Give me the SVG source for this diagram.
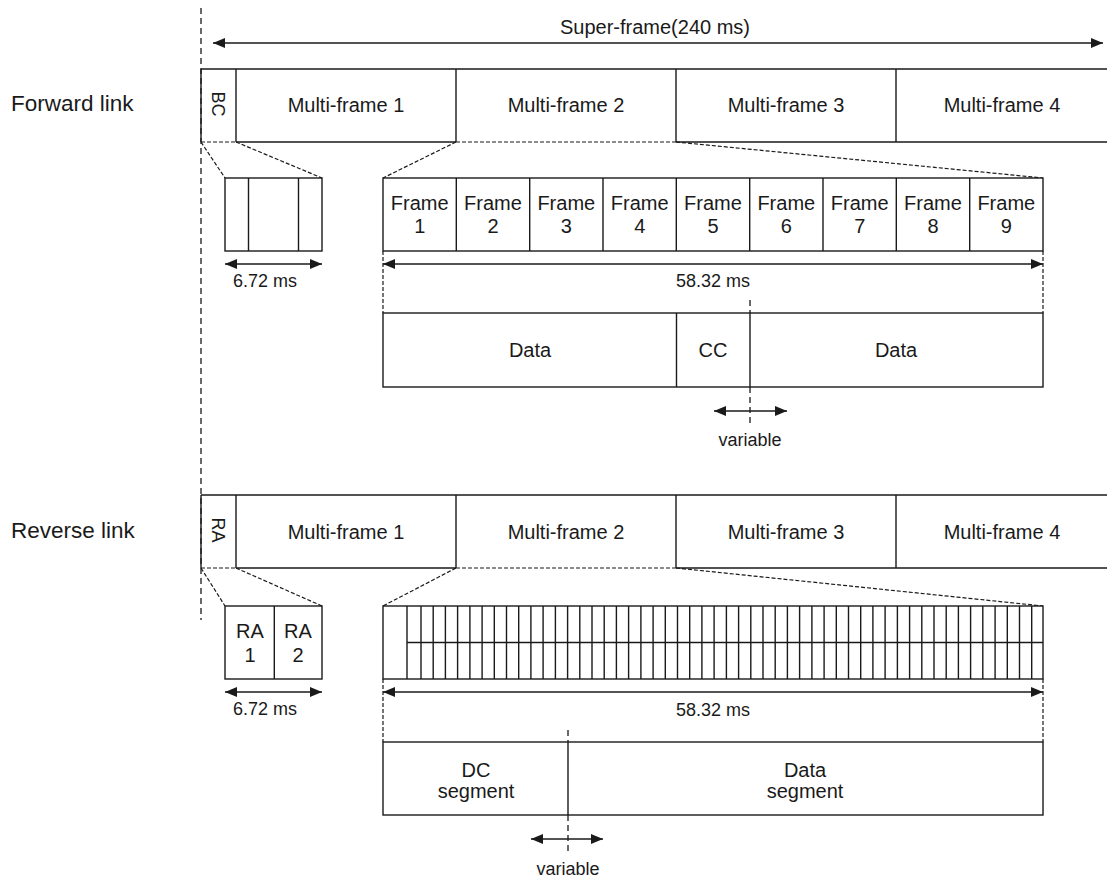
<svg xmlns="http://www.w3.org/2000/svg" width="1107" height="878" viewBox="0 0 1107 878">
<style>
.s{fill:none;stroke:#1a1a1a;stroke-width:1.4}
.box{fill:#fff;stroke:#1a1a1a;stroke-width:1.4}
.d{fill:none;stroke:#1a1a1a;stroke-width:1.2;stroke-dasharray:4 2}
.dv{fill:none;stroke:#1a1a1a;stroke-width:1.3;stroke-dasharray:6 4}
.a{fill:none;stroke:#1a1a1a;stroke-width:1.5;marker-start:url(#ah);marker-end:url(#ah)}
text{font-family:"Liberation Sans",Arial,sans-serif;fill:#1a1a1a;text-anchor:middle}
.t20{font-size:20px}
.t18{font-size:18px}
.lbl{font-size:22.5px;text-anchor:start}
</style>
<defs>
<marker id="ah" viewBox="0 0 12 10" refX="12" refY="5" markerWidth="12" markerHeight="10" markerUnits="userSpaceOnUse" orient="auto-start-reverse">
<path d="M0,0 L12,5 L0,10 z" fill="#1a1a1a"/>
</marker>
</defs>
<rect width="1107" height="878" fill="#fff"/>

<g id="connectors">
<line class="dv" x1="201" y1="8" x2="201" y2="620"/>
<line class="a" x1="213" y1="43" x2="1103" y2="43"/>
<line class="d" x1="201" y1="142" x2="225" y2="178"/>
<line class="d" x1="236" y1="142" x2="322" y2="178"/>
<line class="d" x1="456" y1="142" x2="383" y2="178"/>
<line class="d" x1="676" y1="142" x2="1043" y2="178"/>
<line class="a" x1="225" y1="264" x2="322" y2="264"/>
<line class="a" x1="383" y1="264" x2="1043" y2="264"/>
<line class="d" x1="383" y1="251" x2="383" y2="313"/>
<line class="d" x1="1043" y1="251" x2="1043" y2="313"/>
<line class="dv" x1="750" y1="300" x2="750" y2="313"/>
<line class="dv" x1="750" y1="387" x2="750" y2="424"/>
<line class="a" x1="714" y1="411" x2="787" y2="411"/>
<line class="d" x1="201" y1="568" x2="225" y2="606"/>
<line class="d" x1="236" y1="568" x2="322" y2="606"/>
<line class="d" x1="456" y1="568" x2="383" y2="606"/>
<line class="d" x1="676" y1="568" x2="1043" y2="606"/>
<line class="a" x1="225" y1="692" x2="322" y2="692"/>
<line class="a" x1="383" y1="692" x2="1043" y2="692"/>
<line class="d" x1="383" y1="679" x2="383" y2="742"/>
<line class="d" x1="1043" y1="679" x2="1043" y2="742"/>
<line class="dv" x1="568" y1="730" x2="568" y2="742"/>
<line class="dv" x1="568" y1="815" x2="568" y2="853"/>
<line class="a" x1="531" y1="839" x2="603" y2="839"/>
</g>

<text class="t20" x="655" y="34">Super-frame(240 ms)</text>
<text class="lbl" x="11" y="111">Forward link</text>
<text class="lbl" x="11" y="538">Reverse link</text>

<g id="forward-bar">
<path class="s" d="M201,69 H1107 M201,69 V142 M236,69 V142 M456,69 V142 M676,69 V142 M896,69 V142 M236,142 H456 M676,142 H1107"/>
<path class="d" d="M201,142 H236 M456,142 H676"/>
<text class="t18" transform="translate(218,104) rotate(90)" y="6">BC</text>
<text class="t20" x="346" y="112">Multi-frame 1</text>
<text class="t20" x="566" y="112">Multi-frame 2</text>
<text class="t20" x="786" y="112">Multi-frame 3</text>
<text class="t20" x="1002" y="112">Multi-frame 4</text>
</g>

<g id="bc-detail">
<rect class="box" x="225" y="178" width="97" height="73"/>
<path class="s" d="M248.5,178 V251 M298.5,178 V251"/>
<text class="t18" x="265" y="287">6.72 ms</text>
</g>

<g id="frames">
<rect class="box" x="383" y="178" width="660" height="73"/>
<path class="s" d="M456.3,178 V251 M529.7,178 V251 M603,178 V251 M676.3,178 V251 M749.7,178 V251 M823,178 V251 M896.3,178 V251 M969.7,178 V251"/>
<text class="t20" x="419.7" y="210">Frame</text><text class="t20" x="419.7" y="233">1</text>
<text class="t20" x="493" y="210">Frame</text><text class="t20" x="493" y="233">2</text>
<text class="t20" x="566.3" y="210">Frame</text><text class="t20" x="566.3" y="233">3</text>
<text class="t20" x="639.7" y="210">Frame</text><text class="t20" x="639.7" y="233">4</text>
<text class="t20" x="713" y="210">Frame</text><text class="t20" x="713" y="233">5</text>
<text class="t20" x="786.3" y="210">Frame</text><text class="t20" x="786.3" y="233">6</text>
<text class="t20" x="859.7" y="210">Frame</text><text class="t20" x="859.7" y="233">7</text>
<text class="t20" x="933" y="210">Frame</text><text class="t20" x="933" y="233">8</text>
<text class="t20" x="1006.3" y="210">Frame</text><text class="t20" x="1006.3" y="233">9</text>
<text class="t18" x="713" y="287">58.32 ms</text>
</g>

<g id="forward-frame-content">
<rect class="box" x="383" y="313" width="660" height="74"/>
<path class="s" d="M676.5,313 V387 M750,313 V387"/>
<text class="t20" x="530" y="357">Data</text>
<text class="t20" x="713" y="357">CC</text>
<text class="t20" x="896" y="357">Data</text>
<text class="t18" x="750" y="446">variable</text>
</g>

<g id="reverse-bar">
<path class="s" d="M201,495 H1107 M201,495 V568 M236,495 V568 M456,495 V568 M676,495 V568 M896,495 V568 M236,568 H456 M676,568 H1107"/>
<path class="d" d="M201,568 H236 M456,568 H676"/>
<text class="t18" transform="translate(218,530) rotate(90)" y="6">RA</text>
<text class="t20" x="346" y="539">Multi-frame 1</text>
<text class="t20" x="566" y="539">Multi-frame 2</text>
<text class="t20" x="786" y="539">Multi-frame 3</text>
<text class="t20" x="1002" y="539">Multi-frame 4</text>
</g>

<g id="ra-detail">
<rect class="box" x="225" y="606" width="97" height="73"/>
<path class="s" d="M274.3,606 V679"/>
<text class="t20" x="250" y="638">RA</text><text class="t20" x="250" y="662">1</text>
<text class="t20" x="298" y="638">RA</text><text class="t20" x="298" y="662">2</text>
<text class="t18" x="265" y="715">6.72 ms</text>
</g>

<g id="slots">
<rect class="box" x="383" y="606" width="660" height="73"/>
<path class="s" d="M407,606 V679 M407,642.5 H1043"/>
<path class="s" d="M421,606V679M433.2,606V679M445.4,606V679M457.6,606V679M469.9,606V679M482.1,606V679M494.3,606V679M506.5,606V679M518.7,606V679M530.9,606V679M543.1,606V679M555.4,606V679M567.6,606V679M579.8,606V679M592,606V679M604.2,606V679M616.4,606V679M628.6,606V679M640.9,606V679M653.1,606V679M665.3,606V679M677.5,606V679M689.7,606V679M701.9,606V679M714.1,606V679M726.4,606V679M738.6,606V679M750.8,606V679M763,606V679M775.2,606V679M787.4,606V679M799.6,606V679M811.9,606V679M824.1,606V679M836.3,606V679M848.5,606V679M860.7,606V679M872.9,606V679M885.1,606V679M897.4,606V679M909.6,606V679M921.8,606V679M934,606V679M946.2,606V679M958.4,606V679M970.6,606V679M982.8,606V679M995.1,606V679M1007.3,606V679M1019.5,606V679M1031.7,606V679"/>
<text class="t18" x="713" y="716">58.32 ms</text>
</g>

<g id="reverse-frame-content">
<rect class="box" x="383" y="742" width="660" height="73"/>
<path class="s" d="M568,742 V815"/>
<text class="t20" x="476" y="777">DC</text>
<text class="t20" x="476" y="798">segment</text>
<text class="t20" x="805" y="777">Data</text>
<text class="t20" x="805" y="798">segment</text>
<text class="t18" x="568" y="875">variable</text>
</g>
</svg>
